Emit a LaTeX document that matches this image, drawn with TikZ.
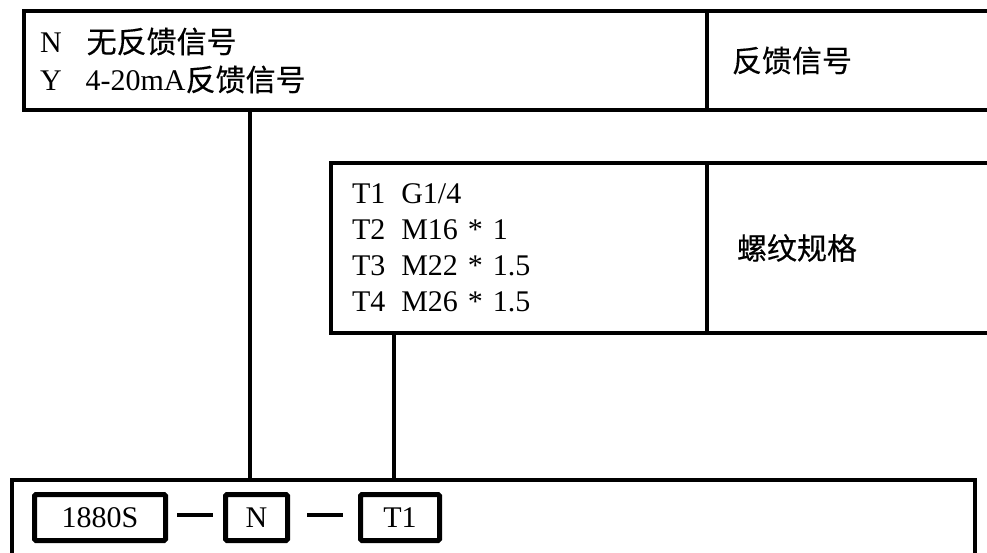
\documentclass[tikz,border=0pt]{standalone}
\usepackage{fontspec}
\setmainfont{Liberation Serif}
\newfontfamily\cjk[FakeBold=0.4]{Noto Sans CJK SC}
\newcommand\zh[1]{{\cjk #1}}
\usetikzlibrary{positioning}
\begin{document}
\begin{tikzpicture}[x=1pt,y=-1pt,
  every node/.style={font=\fontsize{30}{36}\selectfont},
  cell/.style={draw,line width=4.5pt,anchor=north west,inner ysep=0pt,outer sep=0pt,align=left},
  codebox/.style={draw,line width=5pt,rounded corners=1.5pt,minimum height=46pt,inner sep=0pt,outer sep=0pt},
  link/.style={line width=4pt}]
\clip (0,0) rectangle (987,552);

\node[cell,minimum width=683pt,minimum height=99pt,inner xsep=16pt,text width=651pt,font=\fontsize{30}{38}\selectfont] (sig) at (24,11)
  {N\hspace{25pt}\zh{无反馈信号}\\Y\hspace{24pt}4-20mA\zh{反馈信号}};
\node[cell,minimum width=300pt,minimum height=99pt,inner xsep=25pt,text width=250pt] (signame) at (707,11) {\zh{反馈信号}};

\node[cell,minimum width=376pt,minimum height=170pt,inner xsep=21pt,text width=334pt] (thread) at (331,163)
  {T1\hspace{16pt}G1/4\\T2\hspace{16pt}M16 * 1\\T3\hspace{16pt}M22 * 1.5\\T4\hspace{16pt}M26 * 1.5};
\node[cell,minimum width=300pt,minimum height=170pt,inner xsep=30pt,text width=240pt] (threadname) at (707,163) {\zh{螺纹规格}};

\node[cell,minimum width=963pt,minimum height=200pt] (code) at (12,480) {};
\node[codebox,minimum width=131pt,anchor=north west] (model) at (34.5,494.5) {1880S};
\node[codebox,minimum width=62pt,right=60pt of model] (nbox) {N};
\node[codebox,minimum width=79pt,right=73pt of nbox] (tbox) {T1};

\draw[link] ([xshift=-6.5pt]nbox.center |- sig.south) -- ([xshift=-6.5pt]nbox.center |- code.north);
\draw[link] ([xshift=-6pt]tbox.center |- thread.south) -- ([xshift=-6pt]tbox.center |- code.north);
\draw[link,shorten <=11.5pt,shorten >=12.5pt] ([yshift=3pt]model.east) -- ([yshift=3pt]nbox.west);
\draw[link,shorten <=19.5pt,shorten >=17.5pt] ([yshift=3pt]nbox.east) -- ([yshift=3pt]tbox.west);
\end{tikzpicture}
\end{document}
